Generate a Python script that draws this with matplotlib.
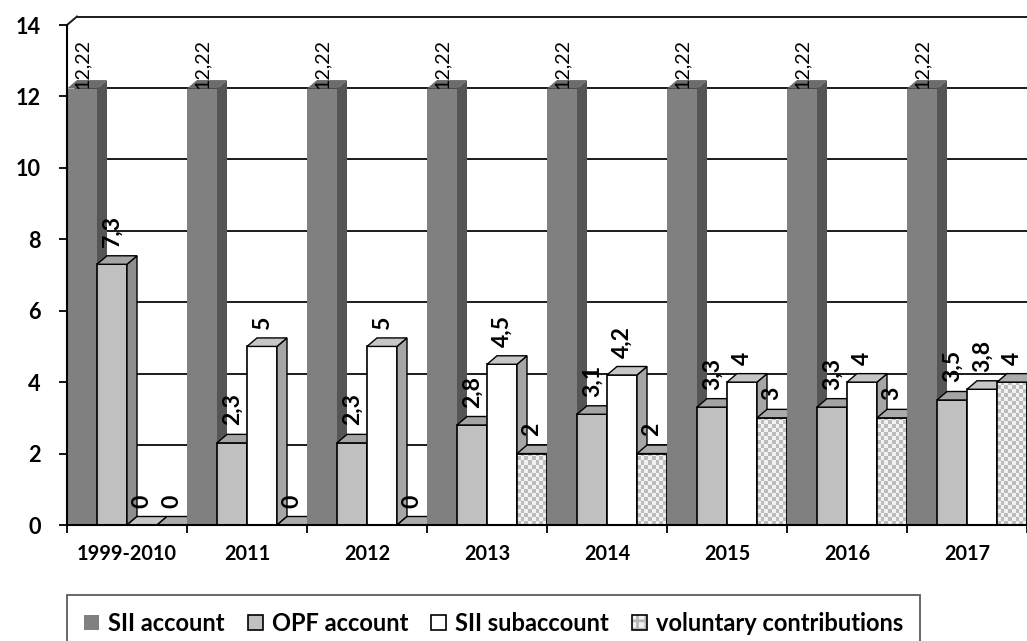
import numpy as np
import matplotlib
matplotlib.use("Agg")
import matplotlib.pyplot as plt
from matplotlib.patches import Polygon, Patch
from matplotlib.legend_handler import HandlerTuple

# ── Data ───────────────────────────────────────────────────────────────────────

CATEGORIES     = ["1999-2010", "2011", "2012", "2013", "2014", "2015", "2016", "2017"]
SII_ACCOUNT    = [12.22, 12.22, 12.22, 12.22, 12.22, 12.22, 12.22, 12.22]
OPF_ACCOUNT    = [7.3, 2.3, 2.3, 2.8, 3.1, 3.3, 3.3, 3.5]
SII_SUBACCOUNT = [0, 5, 5, 4.5, 4.2, 4, 4, 3.8]
VOLUNTARY      = [0, 0, 0, 2, 2, 3, 3, 4]
SERIES_NAMES   = ["SII account", "OPF account", "SII subaccount", "voluntary contributions"]
Y_TICKS        = [0, 2, 4, 6, 8, 10, 12, 14]

# ── Style ──────────────────────────────────────────────────────────────────────

plt.rcParams["font.family"] = ["Lato", "DejaVu Sans"]
plt.rcParams["hatch.color"] = "#b8b8b8"
plt.rcParams["hatch.linewidth"] = 2.0

# front / side / top face colours, edge colour, label weight
STYLES = [
    dict(front="#808080", side="#555555", top="#6c6c6c", edge="none",  weight="normal"),
    dict(front="#c0c0c0", side="#8e8e8e", top="#a4a4a4", edge="black", weight="bold"),
    dict(front="#ffffff", side="#a6a6a6", top="#c6c6c6", edge="black", weight="bold"),
    dict(front="checker", side="#9a9a9a", top="#ababab", edge="black", weight="bold"),
]

W, H, DPI = 1027, 641, 100
AX_LEFT, AX_RIGHT, AX_TOP, AX_BOTTOM = 67, 1027, 25, 525   # pixels
PX_PER_X = (AX_RIGHT - AX_LEFT) / len(CATEGORIES)
PX_PER_Y = (AX_BOTTOM - AX_TOP) / Y_TICKS[-1]
DX = 10 / PX_PER_X          # depth offset, data units
DY = 8.5 / PX_PER_Y
BAR_W = 0.25
PT = DPI / 72               # pixels per point


def fmt(v):
    return f"{v:g}".replace(".", ",")


def fit_size(fig, text, target_px, weight):
    """Font size (pt) at which `text` is target_px wide in Lato."""
    t = fig.text(0, 0, text, fontsize=12, fontweight=weight)
    w = t.get_window_extent(fig.canvas.get_renderer()).width
    t.remove()
    return 12 * target_px / w


def main():
    fig = plt.figure(figsize=(W / DPI, H / DPI), dpi=DPI)
    ax = fig.add_axes([AX_LEFT / W, 1 - AX_BOTTOM / H,
                       (AX_RIGHT - AX_LEFT) / W, (AX_BOTTOM - AX_TOP) / H])

    fs_bold_lab = fit_size(fig, "7,3", 32, "bold")
    fs_sii_lab  = fit_size(fig, "12,22", 50, "normal")
    fs_xtick    = fit_size(fig, "1999-2010", 100, "bold")
    fs_ytick    = fit_size(fig, "14", 25, "bold")
    fs_legend   = fit_size(fig, "SII account", 116, "bold")

    series = [SII_ACCOUNT, OPF_ACCOUNT, SII_SUBACCOUNT, VOLUNTARY]
    x_cat = np.arange(len(CATEGORIES))

    # ── Back wall, floor and side wall lines ──────────────────────────────────
    for v in Y_TICKS:
        ax.plot([DX, len(CATEGORIES) + DX], [v + DY, v + DY], color="#1a1a1a",
                lw=1.4, zorder=1, clip_on=False, solid_capstyle="butt")
        ax.plot([0, DX], [v, v + DY], color="#1a1a1a", lw=1.4, zorder=1, clip_on=False)

    # ── Bars (front via ax.bar, then side and top faces) ─────────────────────
    for j, (vals, st) in enumerate(zip(series, STYLES)):
        lefts = x_cat + j * BAR_W
        checker = st["front"] == "checker"
        bars = ax.bar(lefts, vals, width=BAR_W, align="edge",
                      color="none" if checker else st["front"],
                      edgecolor=st["edge"], linewidth=1.2)
        for i, rect in enumerate(bars):
            k = i * 4 + j
            z = 10 + 3 * k
            rect.set_zorder(z + 0.5)
            x0 = rect.get_x()
            x1 = x0 + rect.get_width()
            v = rect.get_height()

            if checker and v > 0:
                nx = 8
                sq = 4 / PX_PER_Y
                ny = int(np.ceil(v / sq))
                grid = (np.add.outer(np.arange(ny), np.arange(nx)) % 2).astype(float)
                rgb = np.where(grid[..., None] > 0, 0.95, 0.74) * np.ones(3)
                im = ax.imshow(rgb, extent=(x0, x1, 0, ny * sq), origin="lower",
                               interpolation="nearest", aspect="auto", zorder=z)
                im.set_clip_path(rect)

            side = Polygon([(x1, 0), (x1 + DX, DY), (x1 + DX, v + DY), (x1, v)],
                           closed=True, facecolor=st["side"], edgecolor=st["edge"],
                           linewidth=1.0, zorder=z + 1, clip_on=False)
            top = Polygon([(x0, v), (x0 + DX, v + DY), (x1 + DX, v + DY), (x1, v)],
                          closed=True, facecolor=st["top"], edgecolor=st["edge"],
                          linewidth=1.0, zorder=z + 2, clip_on=False)
            ax.add_patch(side)
            ax.add_patch(top)

            off = 0 if j == 0 else (DY * PX_PER_Y + 9) / PT
            ax.annotate(fmt(v), xy=((x0 + x1) / 2, v), xytext=(0, off),
                        textcoords="offset points", rotation=90,
                        ha="center", va="bottom",
                        fontsize=fs_bold_lab if j else fs_sii_lab,
                        fontweight=st["weight"], color="black", zorder=1000,
                        annotation_clip=False)

    # ── Axes ───────────────────────────────────────────────────────────────────
    ax.set_xlim(0, len(CATEGORIES))
    ax.set_ylim(0, Y_TICKS[-1])
    ax.set_yticks(Y_TICKS)
    ax.set_yticklabels([str(t) for t in Y_TICKS], fontsize=fs_ytick, fontweight="bold")
    ax.set_xticks(x_cat + 0.5)
    ax.set_xticklabels(CATEGORIES, fontsize=fs_xtick, fontweight="bold")
    ax.set_xticks(np.arange(len(CATEGORIES) + 1), minor=True)
    ax.tick_params(axis="x", which="major", length=0, pad=14)
    ax.tick_params(axis="x", which="minor", length=6, width=1.3, direction="out")
    ax.tick_params(axis="y", length=6, width=1.3, pad=13)
    for s in ("top", "right"):
        ax.spines[s].set_visible(False)
    for s in ("left", "bottom"):
        ax.spines[s].set_linewidth(1.5)
        ax.spines[s].set_zorder(900)
    ax.xaxis.set_zorder(900)
    ax.yaxis.set_zorder(900)
    ax.patch.set_visible(False)

    # ── Legend ─────────────────────────────────────────────────────────────────
    handles = [
        Patch(facecolor=STYLES[0]["front"], edgecolor="none"),
        Patch(facecolor=STYLES[1]["front"], edgecolor="black", linewidth=1.2),
        Patch(facecolor=STYLES[2]["front"], edgecolor="black", linewidth=1.2),
        (Patch(facecolor="#f2f2f2", hatch="++"),
         Patch(facecolor="none", edgecolor="black", linewidth=1.2)),
    ]
    fpx = fs_legend * PT
    leg = fig.legend(handles, SERIES_NAMES, loc="upper left",
                     bbox_to_anchor=(AX_LEFT / W, 1 - 595 / H),
                     bbox_transform=fig.transFigure, ncol=4, frameon=True,
                     fancybox=False, borderaxespad=0, borderpad=17 / fpx,
                     handlelength=15 / fpx, handleheight=15 / fpx,
                     handletextpad=9 / fpx, columnspacing=23 / fpx,
                     prop=dict(size=fs_legend, weight="bold"),
                     handler_map={tuple: HandlerTuple(ndivide=1)})
    leg.get_frame().set_edgecolor("#333333")
    leg.get_frame().set_linewidth(1.3)

    fig.savefig("out.png", dpi=DPI)
    plt.close(fig)


if __name__ == "__main__":
    main()
